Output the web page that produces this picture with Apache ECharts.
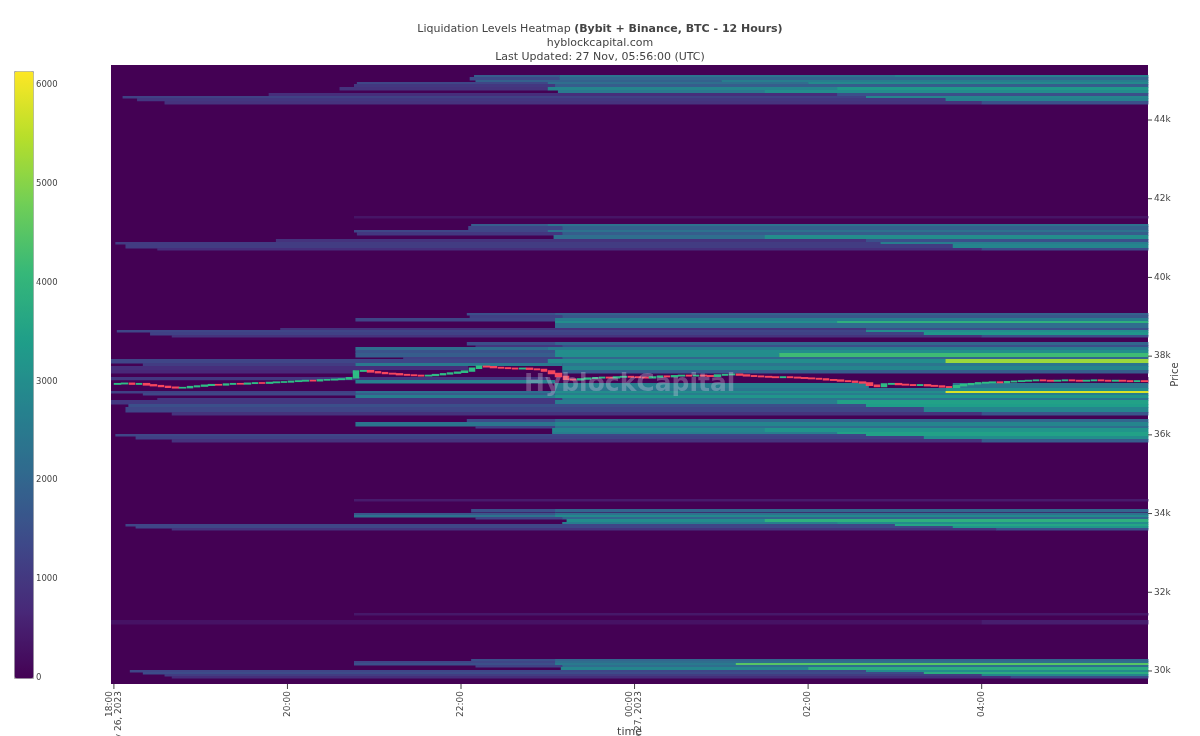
<!DOCTYPE html>
<html><head><meta charset="utf-8">
<script src="https://cdn.jsdelivr.net/npm/echarts@6/dist/echarts.min.js"></script>
<style>html,body{margin:0;padding:0;background:#fff;}#c{width:1200px;height:736px;}</style>
</head><body><div id="c"></div>
<script>
// ---- axis ticks (minutes after 18:00 UTC, Nov 26 2023) ----
const xTickValues = [0, 120, 240, 360, 480, 600];
const xTickLabels = ['18:00\nNov 26, 2023', '20:00', '22:00', '00:00\nNov 27, 2023', '02:00', '04:00'];
const xMin = -2, xMax = 715;
const yTickValues = [30000, 32000, 34000, 36000, 38000, 40000, 42000, 44000];
const yMin = 29669, yMax = 45398;
const colorbarMax = 6140;
const viridis = ['#440154','#482878','#3e4989','#31688e','#26828e','#1f9e89','#35b779','#6ece58','#b5de2b','#fde725'];

// ---- liquidation rows: [priceLow, priceHigh, tStart, value, tChange, value, ...] ----
const rows45k = [
  [45093, 45143, 249, 1800, 308, 2400, 540, 2700],
  [45016, 45093, 246, 1400, 308, 2000],
  [44966, 45016, 250, 1900, 420, 2600],
  [44915, 44966, 168, 1300, 300, 2200, 480, 2900],
  [44839, 44915, 166, 1000, 305, 1800],
  [44763, 44839, 156, 900, 300, 2800, 500, 3300],
  [44687, 44763, 307, 2500, 450, 3000],
  [44611, 44687, 107, 800, 500, 1500],
  [44560, 44611, 6, 1200, 520, 2800],
  [44484, 44560, 16, 1000, 575, 2700],
  [44407, 44484, 35, 900, 600, 1500]
];
const rows41k = [
  [41510, 41561, 166, 350],
  [41307, 41357, 247, 1800, 300, 2300],
  [41205, 41307, 245, 1300, 310, 1900],
  [41154, 41205, 166, 1300, 300, 2300],
  [41078, 41154, 168, 1000, 310, 1800],
  [40976, 41078, 304, 2200, 450, 3000],
  [40900, 40976, 112, 900, 520, 1500],
  [40849, 40900, 1, 1100, 530, 2600],
  [40748, 40849, 8, 1100, 580, 2800],
  [40697, 40748, 30, 800, 600, 1400]
];
const rows39k = [
  [39045, 39096, 244, 1500, 305, 1900],
  [38969, 39045, 246, 1200, 310, 1700],
  [38893, 38969, 167, 1300, 305, 2600],
  [38842, 38893, 305, 3000, 500, 3900],
  [38715, 38842, 305, 2200],
  [38664, 38715, 115, 900, 520, 1500],
  [38613, 38664, 2, 1300, 520, 3000],
  [38537, 38613, 25, 1200, 560, 3200],
  [38486, 38537, 40, 900, 600, 1500]
];
const rows38k = [
  [38283, 38359, 244, 1500, 305, 2000],
  [38232, 38283, 250, 1000, 310, 1500],
  [38156, 38232, 167, 2200, 300, 2600],
  [38080, 38156, 167, 1600, 305, 3000],
  [37978, 38080, 167, 1800, 305, 3000, 460, 4200],
  [37927, 37978, 200, 1200, 310, 2000],
  [37825, 37927, -2, 1300, 300, 3000, 575, 5200],
  [37749, 37825, 20, 1100, 167, 2500, 310, 2400],
  [37648, 37749, -2, 800, 245, 0, 310, 2800],
  [37571, 37648, -2, 700, 167, 0, 310, 1800],
  [37400, 37470, -2, 1000, 300, 0]
];
const rows37k = [
  [37317, 37393, 167, 2700, 305, 0],
  [37190, 37317, 305, 2600, 522, 0, 580, 2400],
  [37114, 37190, 305, 2400, 575, 3000],
  [37063, 37114, -2, 1200, 167, 2200, 305, 3000, 575, 5800],
  [37012, 37063, 20, 1300, 167, 1800, 305, 2600],
  [36936, 37012, 167, 2600, 305, 3200],
  [36885, 36936, 30, 1000, 310, 2400],
  [36783, 36885, -2, 1000, 305, 2600, 500, 3500],
  [36707, 36783, 10, 1500, 520, 3400],
  [36580, 36707, 8, 1300, 560, 2800],
  [36504, 36580, 40, 900, 600, 1600]
];
const rows36k = [
  [36326, 36402, 244, 1400, 305, 2000],
  [36224, 36326, 167, 2400, 305, 2800],
  [36174, 36224, 250, 1200, 305, 2200],
  [36072, 36174, 303, 2800, 450, 3200],
  [36021, 36072, 303, 2600, 500, 3500],
  [35970, 36021, 1, 1300, 520, 3500],
  [35894, 35970, 15, 1200, 560, 3000],
  [35818, 35894, 40, 900, 600, 1800]
];
const rows34k = [
  [34319, 34370, 166, 450],
  [34039, 34116, 247, 1500, 305, 2000],
  [33963, 34014, 166, 1700, 305, 2300],
  [33912, 33963, 166, 2300, 305, 2900],
  [33861, 33912, 250, 1300, 310, 2000],
  [33785, 33861, 313, 3000, 450, 3900],
  [33734, 33785, 310, 2600, 500, 3000],
  [33683, 33734, 8, 1300, 540, 3600],
  [33633, 33683, 15, 1300, 580, 3200],
  [33582, 33633, 40, 900, 610, 1500]
];
const rows31k = [
  [31422, 31473, 166, 400],
  [31193, 31295, -2, 300, 600, 500]
];
const rows30k = [
  [30253, 30304, 247, 1500, 305, 2000],
  [30203, 30253, 166, 1300, 305, 2200],
  [30152, 30203, 166, 1500, 305, 2500, 430, 4500],
  [30101, 30152, 250, 1200, 310, 2200],
  [30025, 30101, 309, 2800, 480, 3800],
  [29974, 30025, 11, 1300, 520, 3000],
  [29923, 29974, 20, 1400, 560, 3800],
  [29872, 29923, 35, 1100, 600, 2800],
  [29821, 29872, 40, 800, 620, 1400]
];

// ---- BTC price, 5-minute candle closes from 18:00 ----
const candleStepMin = 5;
const firstOpen = 37290;
const candleCloses = [
  37300, 37310, 37290, 37300, 37270, 37250, 37230, 37210, 37195, 37200, 37225, 37240,
  37260, 37275, 37270, 37290, 37300, 37295, 37310, 37320, 37315, 37330, 37340, 37345,
  37360, 37370, 37380, 37375, 37395, 37400, 37410, 37420, 37450, 37620, 37630, 37600,
  37580, 37560, 37550, 37530, 37520, 37510, 37500, 37510, 37530, 37550, 37570, 37590,
  37620, 37690, 37740, 37730, 37710, 37700, 37690, 37680, 37690, 37670, 37660, 37620,
  37560, 37480, 37410, 37400, 37420, 37440, 37450, 37460, 37450, 37470, 37480, 37470,
  37460, 37450, 37470, 37490, 37480, 37500, 37510, 37500, 37510, 37500, 37490, 37520,
  37530, 37540, 37520, 37500, 37490, 37480, 37470, 37460, 37470, 37460, 37450, 37440,
  37430, 37420, 37400, 37390, 37370, 37360, 37340, 37320, 37260, 37230, 37290, 37300,
  37280, 37270, 37260, 37270, 37250, 37240, 37220, 37210, 37250, 37280, 37300, 37320,
  37330, 37340, 37330, 37350, 37360, 37370, 37380, 37390, 37380, 37370, 37380, 37390,
  37380, 37370, 37380, 37390, 37380, 37370, 37380, 37370, 37360, 37370, 37360
];

// ---- build data ----
const allRows = [].concat(rows45k, rows41k, rows39k, rows38k, rows37k, rows36k, rows34k, rows31k, rows30k);
const cells = [];
allRows.forEach(function (r) {
  const segs = r.slice(2);
  for (let k = 0; k < segs.length; k += 2) {
    const t0 = segs[k];
    const t1 = (k + 2 < segs.length) ? segs[k + 2] : xMax;
    cells.push([t0, t1, r[0], r[1], segs[k + 1]]);
  }
});
const candles = [];
let prev = firstOpen;
candleCloses.forEach(function (c, i) {
  candles.push([i * candleStepMin + candleStepMin / 2, prev, c, Math.min(prev, c), Math.max(prev, c)]);
  prev = c;
});

function renderCell(params, api) {
  const a = api.coord([api.value(0), api.value(3)]);
  const b = api.coord([api.value(1), api.value(2)]);
  return {
    type: 'rect',
    shape: { x: a[0], y: a[1], width: b[0] - a[0] + 0.4, height: b[1] - a[1] + 0.4 },
    style: { fill: api.visual('color') }
  };
}
function renderYTick(params, api) {
  const p = api.coord([xMax, api.value(0)]);
  return { type: 'line', shape: { x1: p[0], y1: p[1], x2: p[0] + 4, y2: p[1] }, style: { stroke: '#444', lineWidth: 1 } };
}
function renderXTick(params, api) {
  const p = api.coord([api.value(0), yMin]);
  return { type: 'line', shape: { x1: p[0], y1: p[1], x2: p[0], y2: p[1] + 5 }, style: { stroke: '#444', lineWidth: 1 } };
}

const FONT = 'DejaVu Sans';
const chart = echarts.init(document.getElementById('c'), null, { renderer: 'canvas' });
chart.setOption({
  backgroundColor: '#ffffff',
  animation: false,
  textStyle: { fontFamily: FONT },
  title: {
    left: 'center', top: 17,
    text: '{a|Liquidation Levels Heatmap }{b|(Bybit + Binance, BTC - 12 Hours)}\n{a|hyblockcapital.com}\n{a|Last Updated: 27 Nov, 05:56:00 (UTC)}',
    textStyle: {
      fontWeight: 'normal', fontFamily: FONT, fontSize: 11, color: '#444',
      rich: {
        a: { fontFamily: FONT, fontSize: 11, color: '#444', fontWeight: 'normal', lineHeight: 14 },
        b: { fontFamily: FONT, fontSize: 11, color: '#444', fontWeight: 'bold', lineHeight: 14 }
      }
    }
  },
  grid: [
    { left: 111, right: 52, top: 65, bottom: 52, show: true, backgroundColor: '#440154', borderWidth: 0, containLabel: false, outerBoundsMode: 'none' },
    { left: 14, top: 71, width: 19, height: 607, show: false, containLabel: false, outerBoundsMode: 'none' }
  ],
  xAxis: [
    {
      type: 'value', gridIndex: 0, min: xMin, max: xMax,
      name: 'time', nameLocation: 'middle', nameGap: 43, nameMoveOverlap: false,
      nameTextStyle: { fontFamily: FONT, fontSize: 11, color: '#444' },
      axisLine: { show: false }, splitLine: { show: false }, axisTick: { show: false },
      axisLabel: {
        rotate: 90, fontSize: 9, color: '#444', margin: 7, fontFamily: FONT,
        customValues: xTickValues,
        formatter: function (v) { const i = xTickValues.indexOf(v); return i >= 0 ? xTickLabels[i] : ''; }
      }
    },
    { type: 'value', gridIndex: 1, show: false, min: 0, max: 1 }
  ],
  yAxis: [
    {
      type: 'value', gridIndex: 0, position: 'right', min: yMin, max: yMax,
      name: 'Price', nameLocation: 'middle', nameGap: 22, nameRotate: 90, nameMoveOverlap: false,
      nameTextStyle: { fontFamily: FONT, fontSize: 10, color: '#444' },
      axisLine: { show: false }, splitLine: { show: false }, axisTick: { show: false },
      axisLabel: {
        fontSize: 9, color: '#444', margin: 6, fontFamily: FONT,
        customValues: yTickValues,
        formatter: function (v) { return (v / 1000) + 'k'; }
      }
    },
    {
      type: 'value', gridIndex: 1, position: 'right', min: 0, max: colorbarMax, interval: 1000,
      axisLine: { show: false }, axisTick: { show: false }, splitLine: { show: false },
      axisLabel: { fontSize: 8.5, color: '#444', margin: 3, fontFamily: FONT, showMaxLabel: false,
        formatter: function (v) { return String(v); } }
    }
  ],
  visualMap: {
    type: 'continuous', seriesIndex: 0, dimension: 4,
    min: 0, max: colorbarMax, orient: 'vertical',
    left: 14, top: 71, itemWidth: 19, itemHeight: 607, padding: 0,
    calculable: false, hoverLink: false, showLabel: false, text: null,
    borderColor: '#aaaaaa', borderWidth: 1,
    inRange: { color: viridis }
  },
  graphic: [{
    type: 'text', left: 524, top: 372, z: 50, silent: true,
    style: { text: 'HyblockCapital', font: 'bold 25px "DejaVu Sans"', fill: 'rgba(210,210,225,0.33)' }
  }],
  series: [
    {
      type: 'custom', xAxisIndex: 0, yAxisIndex: 0, renderItem: renderCell,
      encode: { x: [0, 1], y: [2, 3] }, data: cells, silent: true, z: 1
    },
    {
      type: 'candlestick', xAxisIndex: 0, yAxisIndex: 0, z: 10,
      encode: { x: 0, y: [1, 2, 3, 4] }, barWidth: 6, data: candles,
      itemStyle: { color: '#2ebd85', color0: '#f6465d', borderColor: '#2ebd85', borderColor0: '#f6465d', borderWidth: 1.5 }
    },
    {
      type: 'custom', xAxisIndex: 0, yAxisIndex: 0, renderItem: renderYTick, clip: false,
      encode: { y: 0 }, data: yTickValues.map(function (v) { return [v]; }), silent: true, z: 5
    },
    {
      type: 'custom', xAxisIndex: 0, yAxisIndex: 0, renderItem: renderXTick, clip: false,
      encode: { x: 0 }, data: xTickValues.map(function (v) { return [v]; }), silent: true, z: 5
    }
  ]
});
</script></body></html>
